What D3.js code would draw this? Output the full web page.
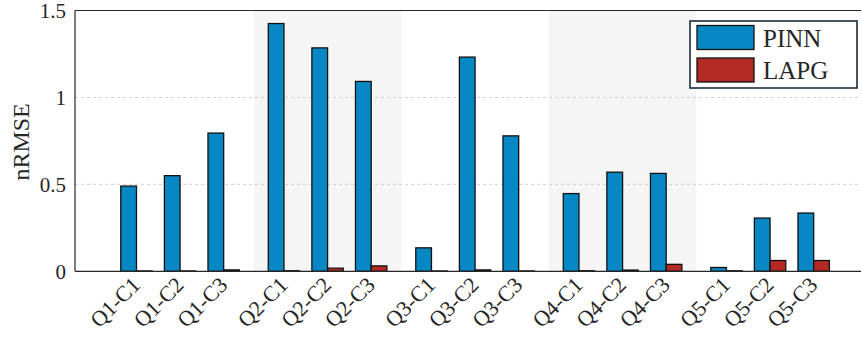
<!DOCTYPE html>
<html>
<head>
<meta charset="utf-8">
<script src="https://cdn.jsdelivr.net/npm/d3@7/dist/d3.min.js"></script>
<style>
  html, body { margin: 0; padding: 0; background: #fff; }
  svg { display: block; }
  text { font-family: "Liberation Serif", "Times New Roman", serif; fill: #262626; }
</style>
</head>
<body>
<svg id="chart" width="862" height="339"></svg>
<script>
// Question groups and the cases within each
const groups = ["Q1", "Q2", "Q3", "Q4", "Q5"];
const cases = ["C1", "C2", "C3"];
const categories = groups.flatMap(g => cases.map(c => g + "-" + c));

// nRMSE per category
const pinn = [0.49, 0.55, 0.795, 1.425, 1.285, 1.092, 0.135, 1.232, 0.779, 0.447, 0.57, 0.563, 0.022, 0.306, 0.335];
const lapg = [0.002, 0.002, 0.008, 0.003, 0.018, 0.031, 0.002, 0.008, 0.002, 0.003, 0.007, 0.04, 0.003, 0.062, 0.062];

const yTicks = [0, 0.5, 1, 1.5];
const yTickLabels = ["0", "0.5", "1", "1.5"];
const seriesNames = ["PINN", "LAPG"];
const seriesColors = ["#0787c3", "#b32a24"];
const shadedGroups = ["Q2", "Q4"];

const svg = d3.select("#chart");
const plot = { left: 75, right: 861, top: 10.5, bottom: 271.3 };

// Position along x: cases are one unit apart, groups separated by an extra gap
const groupGap = 1.383;
const pos = (gi, ci) => gi * (cases.length - 1 + groupGap) + ci;
const rows = categories.map((name, i) => {
  const gi = Math.floor(i / cases.length), ci = i % cases.length;
  return { name, group: groups[gi], p: pos(gi, ci), values: [pinn[i], lapg[i]] };
});

const x = d3.scaleLinear().domain([-1.41, 16.6]).range([plot.left, plot.left + (16.6 + 1.41) * 43.6]);
const y = d3.scaleLinear().domain([0, 1.5]).range([plot.bottom, plot.top]);
const slot = x(1) - x(0);
const barW = slot * 0.36;

// Shaded background behind alternate groups
groups.forEach((g, gi) => {
  if (!shadedGroups.includes(g)) return;
  const x0 = x(pos(gi, 0) - groupGap / 2);
  const x1 = x(pos(gi, cases.length - 1) + groupGap / 2);
  svg.append("rect")
    .attr("x", x0).attr("y", plot.top)
    .attr("width", x1 - x0).attr("height", plot.bottom - plot.top)
    .attr("fill", "#f5f5f5");
});

// Horizontal dashed grid
svg.append("g").selectAll("line")
  .data(yTicks.filter(t => t > 0 && t < 1.5))
  .join("line")
  .attr("x1", plot.left).attr("x2", plot.right)
  .attr("y1", d => y(d)).attr("y2", d => y(d))
  .attr("stroke", "#d0d0d0").attr("stroke-width", 1)
  .attr("stroke-dasharray", "3,3");

// Bars
const barG = svg.append("g");
rows.forEach(r => {
  r.values.forEach((v, si) => {
    const cx = x(r.p);
    barG.append("rect")
      .attr("x", cx - barW + si * barW)
      .attr("y", y(v))
      .attr("width", barW)
      .attr("height", y(0) - y(v))
      .attr("fill", seriesColors[si])
      .attr("stroke", "#111")
      .attr("stroke-width", 1.3);
  });
});

// Axes frame: left, bottom and top lines
const frame = svg.append("g").attr("stroke", "#262626").attr("stroke-width", 1.2);
frame.append("line").attr("x1", plot.left).attr("x2", plot.left).attr("y1", plot.top).attr("y2", plot.bottom);
frame.append("line").attr("x1", plot.left).attr("x2", plot.right).attr("y1", plot.bottom).attr("y2", plot.bottom);
frame.append("line").attr("x1", plot.left).attr("x2", plot.right).attr("y1", plot.top).attr("y2", plot.top);

// Y axis labels
const yAxis = d3.axisLeft(y).tickValues(yTicks).tickSize(0).tickPadding(9)
  .tickFormat((d, i) => yTickLabels[i]);
svg.append("g").attr("transform", `translate(${plot.left},0)`).call(yAxis)
  .call(g => g.select(".domain").remove())
  .selectAll("text")
  .style("font-family", '"Liberation Serif", serif')
  .style("font-size", "21px").attr("fill", "#262626");

svg.append("text")
  .attr("transform", `translate(29,${(plot.top + plot.bottom) / 2 + 1}) rotate(-90)`)
  .attr("text-anchor", "middle")
  .style("font-size", "24px")
  .text("nRMSE");

// X category labels, rotated
svg.append("g").selectAll("text")
  .data(rows)
  .join("text")
  .attr("transform", d => `translate(${x(d.p) + 5},${plot.bottom + 15}) rotate(-45)`)
  .attr("text-anchor", "end")
  .style("font-size", "22px")
  .text(d => d.name);

// Legend
const leg = svg.append("g").attr("transform", "translate(690,21)");
leg.append("rect").attr("width", 167).attr("height", 67)
  .attr("fill", "#fff").attr("stroke", "#1b2b3a").attr("stroke-width", 1.6);
seriesNames.forEach((name, i) => {
  leg.append("rect")
    .attr("x", 7).attr("y", 4.5 + i * 32.5)
    .attr("width", 57).attr("height", 24)
    .attr("fill", seriesColors[i]).attr("stroke", "#111").attr("stroke-width", 1.3);
  leg.append("text")
    .attr("x", 73).attr("y", 25.5 + i * 32.5)
    .style("font-size", "25px")
    .text(name);
});
</script>
</body>
</html>
